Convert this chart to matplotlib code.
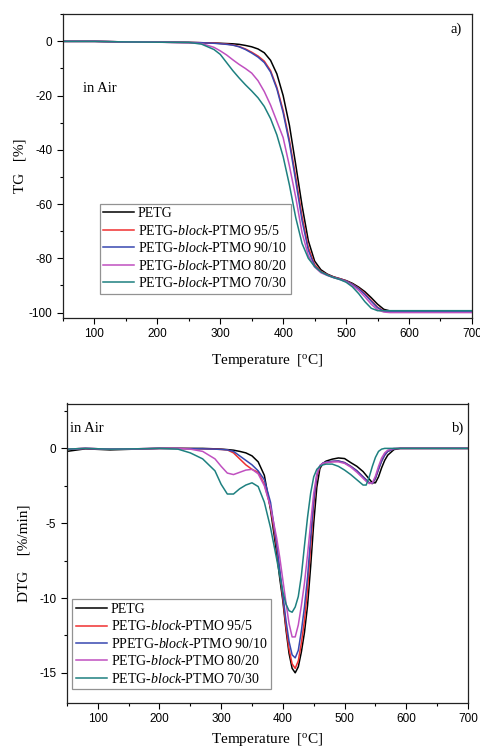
import matplotlib
matplotlib.use("Agg")
import matplotlib.pyplot as plt
from matplotlib.ticker import MultipleLocator

plt.rcParams["font.family"] = "Liberation Serif"
plt.rcParams["mathtext.fontset"] = "custom"
plt.rcParams["mathtext.rm"] = "Liberation Serif"
plt.rcParams["mathtext.it"] = "Liberation Serif:italic"
plt.rcParams["axes.unicode_minus"] = False

# TG curves (temperature in degC, mass change in %)
temp_tg = [50, 100, 150, 200, 250, 270, 290, 300, 310, 320, 330, 340, 350, 360,
           370, 380, 390, 400, 410, 420, 430, 440, 450, 460, 470, 480, 490, 500,
           510, 520, 530, 540, 550, 560, 570, 580, 600, 650, 700]
tg_petg = [0, 0, -0.2, -0.3, -0.4, -0.5, -0.6, -0.7, -0.8, -0.9, -1.1, -1.5, -2.0, -2.8,
           -4.2, -7.0, -12.0, -20.0, -31.0, -45.5, -60.5, -73.5, -81.0, -84.2, -85.8, -86.8, -87.5, -88.2,
           -89.2, -90.6, -92.3, -94.5, -96.9, -98.8, -99.4, -99.5, -99.5, -99.5, -99.5]
tg_95_5 = [0, 0, -0.2, -0.3, -0.4, -0.5, -0.6, -0.8, -1.0, -1.3, -1.9, -2.8, -4.0, -5.4,
           -7.3, -10.8, -17.0, -25.5, -36.5, -50.0, -64.5, -76.0, -82.3, -84.8, -86.0, -86.9, -87.5, -88.3,
           -89.5, -91.0, -93.0, -95.5, -98.0, -99.4, -99.6, -99.6, -99.6, -99.6, -99.6]
tg_90_10 = [0, 0, -0.2, -0.3, -0.4, -0.5, -0.7, -0.9, -1.1, -1.4, -2.0, -3.0, -4.3, -5.8,
            -7.8, -11.3, -17.5, -26.3, -37.5, -51.5, -66.0, -77.0, -82.8, -85.0, -86.1, -87.0, -87.6, -88.4,
            -89.6, -91.2, -93.3, -95.8, -98.2, -99.5, -99.7, -99.7, -99.7, -99.7, -99.7]
tg_80_20 = [0, 0, -0.2, -0.3, -0.5, -0.8, -2.2, -3.5, -5.0, -6.8, -8.5, -10.0, -11.7, -14.5,
            -18.5, -23.5, -29.5, -35.5, -46.0, -57.5, -70.5, -79.0, -83.2, -85.3, -86.3, -87.1, -87.8, -88.6,
            -90.0, -91.8, -94.2, -96.9, -99.0, -99.8, -100.0, -100.0, -100.0, -100.0, -100.0]
tg_70_30 = [0, 0, -0.2, -0.3, -0.4, -1.0, -3.0, -4.8, -7.8, -10.8, -13.5, -16.0, -18.3, -20.8,
            -24.0, -28.5, -34.5, -42.5, -53.0, -65.0, -74.5, -80.0, -83.0, -85.0, -86.2, -87.1, -87.8, -88.8,
            -90.5, -93.0, -96.0, -98.4, -99.3, -99.3, -99.3, -99.3, -99.3, -99.3, -99.3]

# DTG curves (%/min)
temp_dtg = [50, 80, 120, 160, 200, 230, 250, 270, 290, 300, 310, 320, 330, 340, 350, 360,
            370, 380, 390, 395, 400, 405, 410, 415, 420, 425, 430, 435, 440, 445, 450, 455,
            460, 465, 470, 480, 490, 500, 510, 520, 530, 535, 540, 545, 550, 555, 560, 565,
            570, 580, 590, 600, 650, 700]
dtg_petg = [-0.2, -0.03, -0.1, -0.05, 0, 0, 0, 0, -0.03, -0.05, -0.08, -0.12, -0.2, -0.3, -0.5, -0.9,
            -1.8, -4.1, -7.0, -8.7, -10.2, -12.1, -13.7, -14.7, -15.0, -14.6, -13.6, -12.3, -10.5, -7.9, -5.0, -2.6,
            -1.35, -1.0, -0.85, -0.72, -0.64, -0.68, -0.95, -1.2, -1.55, -1.8, -2.05, -2.3, -2.3, -1.9, -1.3, -0.8,
            -0.45, -0.08, 0, 0, 0, 0]
dtg_95_5 = [-0.05, 0, -0.05, -0.03, 0, 0, -0.02, -0.03, -0.05, -0.07, -0.1, -0.3, -0.7, -1.1, -1.4, -1.6,
            -2.4, -3.9, -6.6, -8.3, -10.0, -11.9, -13.4, -14.4, -14.7, -14.2, -13.0, -11.5, -9.4, -6.6, -3.8, -1.9,
            -1.2, -1.0, -0.95, -0.88, -0.85, -0.95, -1.2, -1.5, -1.9, -2.1, -2.3, -2.35, -2.0, -1.4, -0.85, -0.45,
            -0.2, -0.03, 0, 0, 0, 0]
dtg_90_10 = [-0.05, 0, -0.05, -0.03, 0, 0, -0.02, -0.03, -0.05, -0.07, -0.1, -0.2, -0.5, -0.8, -1.1, -1.5,
             -2.1, -3.6, -6.4, -8.1, -9.8, -11.5, -12.9, -13.8, -14.0, -13.5, -12.2, -10.6, -8.6, -6.0, -3.5, -1.8,
             -1.15, -0.98, -0.92, -0.86, -0.84, -0.95, -1.2, -1.5, -1.9, -2.1, -2.3, -2.35, -2.0, -1.4, -0.85, -0.45,
             -0.2, -0.03, 0, 0, 0, 0]
dtg_80_20 = [-0.05, 0, -0.05, -0.03, 0, 0, -0.05, -0.2, -0.7, -1.2, -1.65, -1.75, -1.6, -1.45, -1.4, -1.7,
             -2.5, -3.9, -6.0, -7.3, -8.8, -10.3, -11.7, -12.6, -12.6, -11.8, -10.5, -9.0, -7.1, -5.0, -3.0, -1.7,
             -1.15, -1.0, -0.95, -0.9, -0.9, -1.0, -1.25, -1.6, -2.0, -2.2, -2.35, -2.3, -1.85, -1.2, -0.65, -0.3,
             -0.12, 0, 0, 0, 0, 0]
dtg_70_30 = [-0.05, 0, -0.05, -0.03, 0, -0.05, -0.3, -0.7, -1.5, -2.4, -3.05, -3.05, -2.7, -2.45, -2.3, -2.55,
             -3.6, -5.3, -7.4, -8.5, -9.6, -10.4, -10.85, -10.95, -10.6, -9.9, -8.5, -6.5, -4.6, -3.0, -1.9, -1.4,
             -1.2, -1.1, -1.05, -1.05, -1.2, -1.45, -1.75, -2.1, -2.45, -2.45, -1.9, -1.2, -0.6, -0.2, -0.05, 0,
             0, 0, 0, 0, 0, 0]

colors = ["#000000", "#f03030", "#3848b0", "#c050c0", "#1e8080"]
labels_tg = ["PETG", "PETG-$\\it{block}$-PTMO 95/5", "PETG-$\\it{block}$-PTMO 90/10",
             "PETG-$\\it{block}$-PTMO 80/20", "PETG-$\\it{block}$-PTMO 70/30"]
labels_dtg = ["PETG", "PETG-$\\it{block}$-PTMO 95/5", "PPETG-$\\it{block}$-PTMO 90/10",
              "PETG-$\\it{block}$-PTMO 80/20", "PETG-$\\it{block}$-PTMO 70/30"]

fig = plt.figure(figsize=(4.81, 7.5), dpi=100)
ax1 = fig.add_axes([0.131, 0.576, 0.850, 0.405])
ax2 = fig.add_axes([0.139, 0.063, 0.834, 0.399])


def style_axis(ax, ymajor, yminor):
    ax.xaxis.set_major_locator(MultipleLocator(100))
    ax.xaxis.set_minor_locator(MultipleLocator(50))
    ax.yaxis.set_major_locator(MultipleLocator(ymajor))
    ax.yaxis.set_minor_locator(MultipleLocator(yminor))
    ax.tick_params(which="both", direction="out", top=False, right=False)
    ax.tick_params(which="major", length=4, width=0.8, labelsize=8.5)
    ax.tick_params(which="minor", length=2.5, width=0.8)
    for lab in ax.get_xticklabels() + ax.get_yticklabels():
        lab.set_fontfamily("Liberation Sans")
    for sp in ax.spines.values():
        sp.set_linewidth(0.9)
        sp.set_color("#222222")


tg_series = [tg_petg, tg_95_5, tg_90_10, tg_80_20, tg_70_30]
for vals, c, lab in zip(tg_series, colors, labels_tg):
    ax1.plot(temp_tg, vals, color=c, lw=1.1, label=lab)
ax1.set_xlim(50, 700)
ax1.set_ylim(-102, 10)
style_axis(ax1, 20, 10)
ax1.set_xlabel("Temperature  [$^{\\rm o}$C]", fontsize=11, labelpad=8)
ax1.set_ylabel("TG   [%]", fontsize=11, labelpad=2)
ax1.text(0.048, 0.743, "in Air", transform=ax1.transAxes, fontsize=10.5)
ax1.text(0.975, 0.938, "a)", transform=ax1.transAxes, fontsize=10.5, ha="right")
leg1 = ax1.legend(loc="lower left", bbox_to_anchor=(0.09, 0.08), fontsize=10,
                  frameon=True, fancybox=False, edgecolor="#777777", handlelength=2.2,
                  handletextpad=0.3, labelspacing=0.25, borderpad=0.25, borderaxespad=0)
leg1.get_frame().set_linewidth(0.9)

dtg_series = [dtg_petg, dtg_95_5, dtg_90_10, dtg_80_20, dtg_70_30]
for vals, c, lab in zip(dtg_series, colors, labels_dtg):
    ax2.plot(temp_dtg, vals, color=c, lw=1.1, label=lab)
ax2.set_xlim(50, 700)
ax2.set_ylim(-17, 3)
style_axis(ax2, 5, 2.5)
ax2.set_xlabel("Temperature  [$^{\\rm o}$C]", fontsize=11, labelpad=4)
ax2.set_ylabel("DTG    [%/min]", fontsize=11, labelpad=6)
ax2.text(0.008, 0.905, "in Air", transform=ax2.transAxes, fontsize=10.5)
ax2.text(0.99, 0.905, "b)", transform=ax2.transAxes, fontsize=10.5, ha="right")
leg2 = ax2.legend(loc="lower left", bbox_to_anchor=(0.014, 0.045), fontsize=10,
                  frameon=True, fancybox=False, edgecolor="#777777", handlelength=2.2,
                  handletextpad=0.3, labelspacing=0.25, borderpad=0.25, borderaxespad=0)
leg2.get_frame().set_linewidth(0.9)

fig.savefig("out.png", dpi=100)
